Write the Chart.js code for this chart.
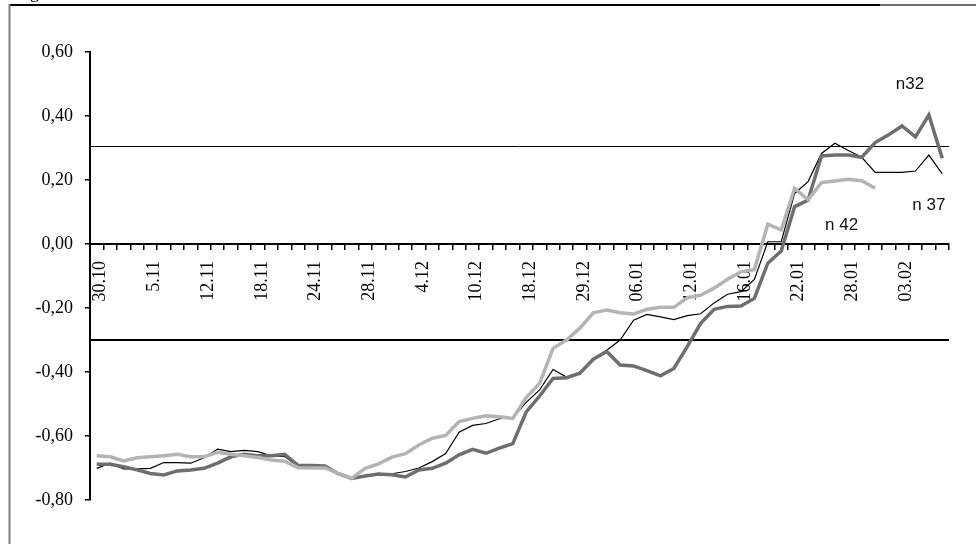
<!DOCTYPE html>
<html>
<head>
	<meta charset="utf-8">
	<title>n32 / n37 / n42</title>
	<script src="https://cdn.jsdelivr.net/npm/chart.js@4.4.1/dist/chart.umd.min.js"></script>
	<style>
		body { margin: 0; background: #fff; }
	</style>
</head>
<body>

	<canvas id="mychart" width="976" height="544"></canvas>

	<script type="text/javascript">

		// tick labels, one on every 4th trading day
		const tickLabels = ['30.10', '5.11', '12.11', '18.11', '24.11', '28.11', '4.12', '10.12',
			'18.12', '29.12', '06.01', '12.01', '16.01', '22.01', '28.01', '03.02'];

		// n32 - thick dark grey
		const n32 = [-0.688, -0.688, -0.696, -0.706, -0.717, -0.722, -0.709, -0.706, -0.701, -0.685,
			-0.665, -0.657, -0.662, -0.662, -0.657, -0.692, -0.692, -0.694, -0.718, -0.733,
			-0.725, -0.719, -0.721, -0.728, -0.706, -0.701, -0.685, -0.659, -0.642, -0.654,
			-0.638, -0.624, -0.525, -0.475, -0.420, -0.418, -0.404, -0.360, -0.336, -0.378,
			-0.381, -0.396, -0.412, -0.389, -0.321, -0.248, -0.204, -0.195, -0.194, -0.170,
			-0.060, -0.022, 0.117, 0.137, 0.275, 0.278, 0.278, 0.271, 0.317, 0.341,
			0.369, 0.335, 0.403, 0.268];

		// n37 - thin black
		const n37 = [-0.701, -0.685, -0.703, -0.703, -0.701, -0.683, -0.683, -0.685, -0.668, -0.641,
			-0.649, -0.645, -0.649, -0.662, -0.664, -0.694, -0.696, -0.698, -0.718, -0.733,
			-0.725, -0.720, -0.718, -0.711, -0.700, -0.680, -0.655, -0.588, -0.567, -0.561,
			-0.546, -0.543, -0.495, -0.456, -0.392, -0.416, -0.404, -0.362, -0.332, -0.300,
			-0.238, -0.220, -0.228, -0.236, -0.224, -0.218, -0.184, -0.157, -0.149, -0.111,
			0.007, 0.007, 0.158, 0.195, 0.283, 0.315, 0.292, 0.271, 0.224, 0.224,
			0.224, 0.228, 0.278, 0.219];

		// n42 - thick light grey, stops earlier
		const n42 = [-0.662, -0.665, -0.678, -0.668, -0.665, -0.662, -0.657, -0.665, -0.665, -0.651,
			-0.657, -0.662, -0.667, -0.675, -0.679, -0.699, -0.700, -0.700, -0.717, -0.732,
			-0.701, -0.687, -0.666, -0.655, -0.628, -0.607, -0.598, -0.555, -0.545, -0.537,
			-0.540, -0.545, -0.480, -0.435, -0.326, -0.300, -0.263, -0.215, -0.206, -0.215,
			-0.219, -0.204, -0.198, -0.198, -0.168, -0.160, -0.138, -0.110, -0.087, -0.080,
			0.062, 0.044, 0.174, 0.138, 0.192, 0.197, 0.202, 0.198, 0.174];

		// horizontal threshold lines
		const refLines = [0.306, -0.30];

		const categories = n32.map((v, i) => i % 4 === 0 ? tickLabels[i / 4] : '');

		function fmt(v){
			if (Math.abs(v) < 1e-9) v = 0;
			return v.toFixed(2).replace('.', ',');
		}

		const decor = {
			id: 'decor',
			beforeDraw(chart){
				const ctx = chart.ctx;
				ctx.save();
				ctx.fillStyle = '#fff';
				ctx.fillRect(0, 0, chart.width, chart.height);
				// outer frame (cut off on the right / bottom)
				ctx.lineWidth = 2;
				ctx.strokeStyle = '#000';
				ctx.beginPath(); ctx.moveTo(9, 5); ctx.lineTo(880, 5); ctx.stroke();
				ctx.strokeStyle = '#6e6e6e';
				ctx.beginPath(); ctx.moveTo(880, 5); ctx.lineTo(chart.width, 5); ctx.stroke();
				ctx.strokeStyle = '#808080';
				ctx.beginPath(); ctx.moveTo(9.5, 4); ctx.lineTo(9.5, chart.height); ctx.stroke();
				// remains of a title above the frame
				ctx.fillStyle = '#000';
				ctx.font = '18px "Liberation Serif"';
				ctx.textBaseline = 'alphabetic';
				ctx.fillText('g', 30, -2);
				ctx.restore();
			},
			beforeDatasetsDraw(chart){
				const ctx = chart.ctx, a = chart.chartArea, y = chart.scales.y;
				const widths = [1, 2];
				ctx.save();
				ctx.strokeStyle = '#000';
				refLines.forEach((v, i) => {
					let py = Math.round(y.getPixelForValue(v));
					if (widths[i] % 2) py += 0.5;
					ctx.lineWidth = widths[i];
					ctx.beginPath(); ctx.moveTo(a.left, py); ctx.lineTo(a.right, py); ctx.stroke();
				});
				ctx.restore();
			},
			afterDraw(chart){
				const ctx = chart.ctx, x = chart.scales.x, y = chart.scales.y;
				const names = [['n32', 60.6, 0.50], ['n 37', 62.0, 0.122], ['n 42', 55.5, 0.058]];
				ctx.save();
				ctx.fillStyle = '#111';
				ctx.font = '17px "Liberation Sans"';
				ctx.textAlign = 'center';
				ctx.textBaseline = 'middle';
				names.forEach(([t, c, v]) => {
					const px = x.getPixelForValue(Math.floor(c)) + (c % 1) * (x.getPixelForValue(1) - x.getPixelForValue(0));
					ctx.fillText(t, px, y.getPixelForValue(v));
				});
				ctx.restore();
			}
		};

		chartIt();

		function chartIt(){
			const ctx = document.getElementById('mychart').getContext('2d');

			const myChart = new Chart(ctx, {
				type: 'line',
				data: {
					labels: categories,
					datasets: [{
						label: 'n42',
						data: n42,
						borderColor: '#b4b4b4',
						borderWidth: 3.5,
						pointRadius: 0,
						fill: false
					}, {
						label: 'n32',
						data: n32,
						borderColor: '#6e6e6e',
						borderWidth: 3.5,
						pointRadius: 0,
						fill: false
					}, {
						label: 'n37',
						data: n37,
						borderColor: '#000',
						borderWidth: 1.2,
						pointRadius: 0,
						fill: false
					}]
				},
				options: {
					responsive: false,
					animation: false,
					layout: { padding: { left: 0, top: 52, right: 17, bottom: 44 } },
					plugins: { legend: { display: false }, tooltip: { enabled: false } },
					scales: {
						x: {
							type: 'category',
							position: { y: 0 },
							offset: true,
							grid: { offset: true, drawOnChartArea: false, drawTicks: true, tickLength: 5, color: '#000', lineWidth: 1.5 },
							border: { display: true, color: '#000', width: 2 },
							ticks: {
								autoSkip: false,
								maxRotation: 90,
								minRotation: 90,
								padding: 12,
								labelOffset: 4,
								color: '#000',
								font: { family: 'Liberation Serif', size: 18 }
							}
						},
						y: {
							min: -0.8,
							max: 0.6,
							afterFit(scale){ scale.width = 90; },
							grid: { drawOnChartArea: false, drawTicks: true, tickLength: 5, color: '#000', lineWidth: 1.5 },
							border: { display: true, color: '#000', width: 2 },
							ticks: {
								stepSize: 0.2,
								padding: 12,
								color: '#000',
								font: { family: 'Liberation Serif', size: 18 },
								callback: v => fmt(v)
							}
						}
					}
				},
				plugins: [decor]
			});
		}

	</script>

</body>
</html>
